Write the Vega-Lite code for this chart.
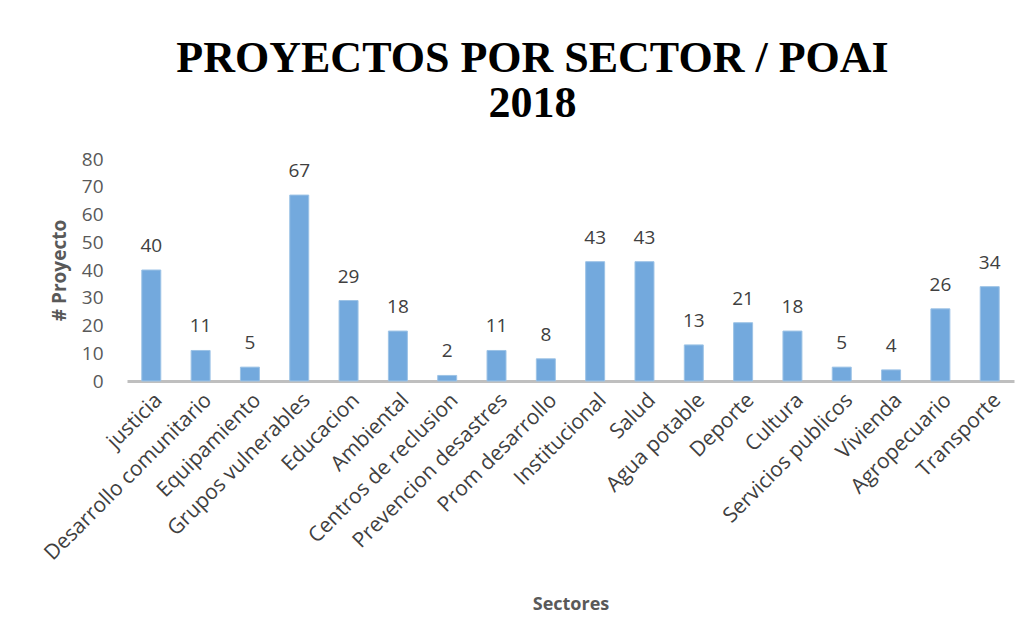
{
  "$schema": "https://vega.github.io/schema/vega-lite/v6.json",
  "autosize": "none",
  "width": 887,
  "height": 222,
  "padding": {"left": 127, "top": 159, "right": 15, "bottom": 261},
  "background": "white",
  "config": {"view": {"stroke": null}},
  "title": {
    "text": ["PROYECTOS POR SECTOR / POAI", "2018"],
    "font": "Liberation Serif",
    "fontSize": 44,
    "fontWeight": "bold",
    "color": "#000000",
    "lineHeight": 45,
    "anchor": "middle",
    "frame": "group",
    "dx": -38,
    "offset": 24
  },
  "data": {
    "values": [
      {"sector": "justicia", "proyectos": 40},
      {"sector": "Desarrollo comunitario", "proyectos": 11},
      {"sector": "Equipamiento", "proyectos": 5},
      {"sector": "Grupos vulnerables", "proyectos": 67},
      {"sector": "Educacion", "proyectos": 29},
      {"sector": "Ambiental", "proyectos": 18},
      {"sector": "Centros de reclusion", "proyectos": 2},
      {"sector": "Prevencion desastres", "proyectos": 11},
      {"sector": "Prom desarrollo", "proyectos": 8},
      {"sector": "Institucional", "proyectos": 43},
      {"sector": "Salud", "proyectos": 43},
      {"sector": "Agua potable", "proyectos": 13},
      {"sector": "Deporte", "proyectos": 21},
      {"sector": "Cultura", "proyectos": 18},
      {"sector": "Servicios publicos", "proyectos": 5},
      {"sector": "Vivienda", "proyectos": 4},
      {"sector": "Agropecuario", "proyectos": 26},
      {"sector": "Transporte", "proyectos": 34}
    ]
  },
  "encoding": {
    "x": {
      "field": "sector",
      "type": "nominal",
      "sort": null,
      "scale": {"paddingInner": 0.615, "paddingOuter": 0.3},
      "axis": {
        "title": "Sectores",
        "titleFont": "Open Sans",
        "titleFontSize": 18,
        "titleFontWeight": "bold",
        "titleColor": "#595959",
        "titlePadding": 32,
        "labelAngle": -45,
        "labelFont": "Open Sans",
        "labelFontSize": 21,
        "labelColor": "#404040",
        "labelPadding": 8,
        "labelLimit": 0,
        "labelOverlap": false,
        "ticks": false,
        "tickSize": 0,
        "domainColor": "#bfbfbf",
        "domainWidth": 3
      }
    },
    "y": {
      "field": "proyectos",
      "type": "quantitative",
      "scale": {"domain": [0, 80], "nice": false},
      "axis": {
        "title": "# Proyecto",
        "titleFont": "Open Sans",
        "titleFontSize": 19,
        "titleFontWeight": "bold",
        "titleColor": "#595959",
        "titlePadding": 12,
        "values": [0, 10, 20, 30, 40, 50, 60, 70, 80],
        "labelFont": "Open Sans",
        "labelFontSize": 19,
        "labelColor": "#595959",
        "labelPadding": 24,
        "ticks": false,
        "tickSize": 0,
        "domain": false,
        "grid": false
      }
    }
  },
  "layer": [
    {
      "mark": {"type": "bar", "color": "#73a9dd", "stroke": "#9dc3e6", "strokeWidth": 1}
    },
    {
      "mark": {"type": "text", "baseline": "bottom", "dy": -14, "font": "Open Sans", "fontSize": 19, "color": "#404040"},
      "encoding": {"text": {"field": "proyectos", "type": "quantitative"}}
    }
  ]
}
